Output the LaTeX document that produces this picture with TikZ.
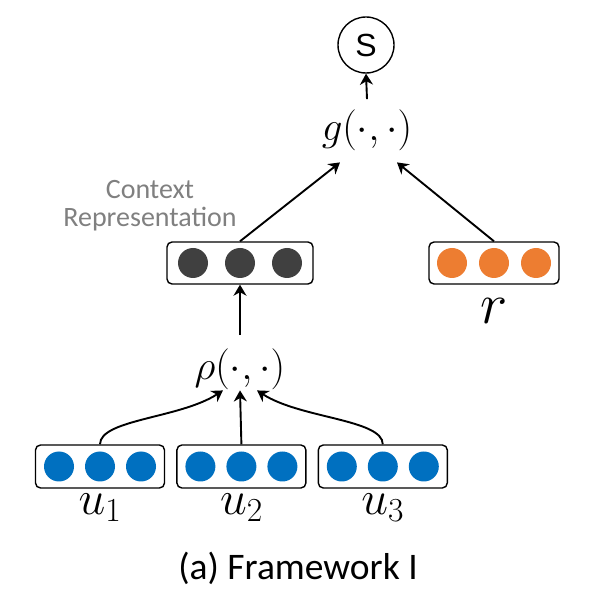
\documentclass[tikz,border=0pt]{standalone}
\usepackage{fix-cm}
\usepackage{fontspec}
\setmainfont{Carlito}
\newfontfamily\arialfont{Liberation Sans}
\usetikzlibrary{positioning}
\usetikzlibrary{arrows.meta}
\definecolor{ublue}{RGB}{0,112,192}
\definecolor{rorange}{RGB}{237,125,49}
\definecolor{cdark}{RGB}{64,64,64}
\definecolor{cgray}{RGB}{128,128,128}
\tikzstyle{vec}=[draw,rectangle,rounded corners=5pt,line width=1.4pt,minimum height=42pt,inner sep=0pt]
\tikzstyle{dot}=[circle,inner sep=0pt,minimum size=30pt]
\tikzstyle{arr}=[-{Stealth[length=11pt,width=13pt,inset=3.5pt]},line width=1.9pt]
\tikzstyle{lbl}=[inner sep=0pt,font=\fontsize{48}{48}\selectfont]

\begin{document}
\begin{tikzpicture}[x=1pt,y=1pt]
    \useasboundingbox (0,0) rectangle (594,598);
    \node (s) [circle,draw,line width=1.4pt,minimum size=56pt,inner sep=0pt,font=\arialfont\fontsize{32}{32}\selectfont] at (366,553) {S};
    \node (g) [anchor=base,inner sep=11pt,font=\fontsize{41}{41}\selectfont] at (367,457) {$g(\cdot,\cdot)$};

\node (cb) [vec,minimum width=146pt] at (240,335) {};
\foreach \i in {-1,0,1} \node (cb\i) [dot,fill=cdark] at ([xshift=\i*47pt]cb.center) {};
\node (ctxl) [align=center,text=cgray,font=\fontsize{28}{28}\selectfont] at (150,392) {Context\\Representation};

\node (rb) [vec,minimum width=130pt] at (494,335) {};
\foreach \i in {-1,0,1} \node (rb\i) [dot,fill=rorange] at ([xshift=\i*42pt]rb.center) {};
\node (lr) [below=14pt of rb,inner sep=0pt,font=\fontsize{58}{58}\selectfont] {$r$};

\node (rho) [anchor=base,inner sep=0pt,font=\fontsize{41}{41}\selectfont] at (240,218) {$\rho(\cdot,\cdot)$};

\node (b1) [vec,minimum width=129pt,minimum height=43pt] at (100,131.5) {};
\node (b2) [vec,minimum width=129pt,minimum height=43pt,right=11pt of b1] {};
\node (b3) [vec,minimum width=129pt,minimum height=43pt,right=11pt of b2] {};
\foreach \b in {b1,b2,b3}
    \foreach \i in {-1,0,1} \node (\b\i) [dot,fill=ublue] at ([xshift=\i*41pt]\b.center) {};
\node (l1) [below=5pt of b1,lbl] {$u_1$};
\node (l2) [below=5pt of b2,lbl] {$u_2$};
\node (l3) [below=5pt of b3,lbl] {$u_3$};

\node (cap) [anchor=base,font=\fontsize{37.5}{37.5}\selectfont] at (298,18) {(a) Framework I};

\draw[arr] (g.north) -- (s.south);
\draw[arr] (cb.north) -- ([xshift=-27pt]g.south);
\draw[arr] (rb.north) -- ([xshift=30pt]g.south);
\draw[arr] ([yshift=14pt]rho.north) -- (cb.south);
\draw[arr] (b1.north) .. controls +(0,25) and +(-43,-28) .. ([xshift=-17pt]rho.south);
\draw[arr] (b2.north) -- (rho.south);
\draw[arr] (b3.north) .. controls +(0,25) and +(43,-28) .. ([xshift=17pt]rho.south);
\end{tikzpicture}
\end{document}
